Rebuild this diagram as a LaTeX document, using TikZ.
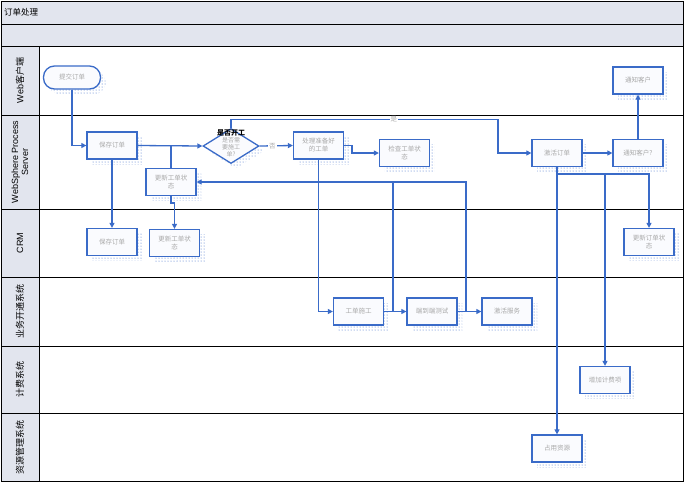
\documentclass[tikz,border=0pt]{standalone}
\usepackage{fontspec}
\setmainfont{Liberation Sans}
\newfontfamily\cjk{Noto Sans CJK SC}
\usetikzlibrary{shapes.geometric,shadows,patterns,arrows.meta}
\definecolor{ln}{HTML}{3A6BC8}
\definecolor{hdr}{HTML}{E2E5EE}
\definecolor{txt}{HTML}{A8A8A8}
\definecolor{boxfill}{HTML}{FAFBFE}
\begin{document}
\begin{tikzpicture}[x=1pt,y=-1pt,
  shad/.style={drop shadow={shadow xshift=5pt,shadow yshift=-5pt,opacity=1,fill=none,pattern=dots,pattern color=ln}},
  proc/.style={draw=ln,line width=1.3pt,fill=boxfill,minimum width=50pt,minimum height=27pt,
     text=txt,font=\cjk\fontsize{6.5}{8}\selectfont,align=center,inner sep=1pt,shad},
  term/.style={proc,rounded corners=11pt,minimum width=57pt,minimum height=23pt},
  dia/.style={diamond,draw=ln,line width=1.3pt,fill=boxfill,minimum width=56pt,minimum height=35pt,inner sep=0pt,shad},
  line/.style={draw=ln,line width=1.3pt},
  conn/.style={line,-{Triangle[length=5pt,width=5pt]}},
  lbl/.style={fill=white,text=txt,font=\cjk\fontsize{6.5}{8}\selectfont,inner sep=1pt},
  lane/.style={rotate=90,font=\fontsize{9}{10}\selectfont,align=center,text=black},
  frame/.style={draw=black,line width=1pt}]
\useasboundingbox (0,0) rectangle (684,483);
% backgrounds
\fill[hdr] (1,1) rectangle (683,46);
\fill[hdr] (1,46) rectangle (39,481);
\fill[white] (39,46) rectangle (683,481);
% frame and lanes
\draw[frame] (1,1) rectangle (683,481);
\draw[frame] (1,24) -- (683,24);
\draw[frame] (1,46) -- (683,46);
\draw[frame] (39,46) -- (39,481);
\foreach \yy in {115,209,277,346,413} \draw[frame] (1,\yy) -- (683,\yy);
\node[anchor=west,font=\cjk\fontsize{8.5}{10}\selectfont,inner sep=0pt] (title) at (4,12.5) {订单处理};
% lane labels
\node[lane] (L1) at (20,80.5) {Web{\cjk 客户端}};
\node[lane] (L2) at (20,162) {WebSphere Process\\Server};
\node[lane] (L3) at (20,243) {CRM};
\node[lane] (L4) at (20,311.5) {\cjk 业务开通系统};
\node[lane] (L5) at (20,379.5) {\cjk 计费系统};
\node[lane] (L6) at (20,447) {\cjk 资源管理系统};
% nodes
\node[term] (submit) at (72,77.5) {提交订单};
\node[proc] (save) at (112,145.5) {保存订单};
\node[proc] (upd) at (171,182) {更新工单状\\态};
\node[proc] (savecrm) at (112,242) {保存订单};
\node[proc] (updcrm) at (174.5,243) {更新工单状\\态};
\node[dia] (dec) at (231,146) {};
\node[text=txt,font=\cjk\fontsize{6}{7}\selectfont,align=center,inner sep=0pt] (dect) at (231,147) {是否需\\要施工\\单?};
\node[font=\cjk\bfseries\fontsize{7}{8}\selectfont,inner sep=0pt] (dech) at (231,133) {是否开工};
\node[proc] (prc) at (318.5,145.5) {处理准备好\\的工单};
\node[proc] (chk) at (404.5,153) {检查工单状\\态};
\node[proc] (act) at (557,153) {激活订单};
\node[proc] (ntfq) at (638,153) {通知客户?};
\node[proc] (ntf) at (638,80.5) {通知客户};
\node[proc] (updord) at (649,242) {更新订单状\\态};
\node[proc] (work) at (358.5,311.5) {工单施工};
\node[proc] (test) at (432,311.5) {端到端测试};
\node[proc] (svc) at (507,311.5) {激活服务};
\node[proc] (bill) at (605,380) {增加计费项};
\node[proc] (res) at (557,448.5) {占用资源};
% connectors
\draw[conn] (submit.south) |- (save.west);
\draw[conn] (save.east) -- (dec.west);
\coordinate (b1) at (171,146);
\draw[line] (b1) -- (upd.north);
\draw[conn] (save.south) -- (savecrm.north);
\draw[conn] (upd.south) -- (171,203) -| (updcrm.north);
\draw[conn] (dec.east) -- node[lbl,pos=0.38]{否} (prc.west);
\coordinate (yc) at (498,119.5);
\draw[conn] (dec.north) |- node[lbl,pos=0.805]{是} (yc) |- (act.west);
\draw[conn] (prc.east) -- (352,145.5) |- (chk.west);
\draw[conn] (prc.south) |- (work.west);
\draw[conn] (work.east) -- (test.west);
\draw[conn] (test.east) -- (svc.west);
\coordinate (fb1) at (393,311.5);
\coordinate (fb2) at (466,311.5);
\draw[conn] (fb1) -- (393,182) -- (upd.east);
\draw[line] (fb2) -- (466,182) -- (393,182);
\draw[conn] (act.east) -- (ntfq.west);
\draw[conn] (ntfq.north) -- (ntf.south);
\draw[conn] (act.south) -- (res.north);
\coordinate (br) at (557,174);
\draw[conn] (br) -| (bill.north);
\draw[conn] (br) -| (updord.north);
\end{tikzpicture}
\end{document}
